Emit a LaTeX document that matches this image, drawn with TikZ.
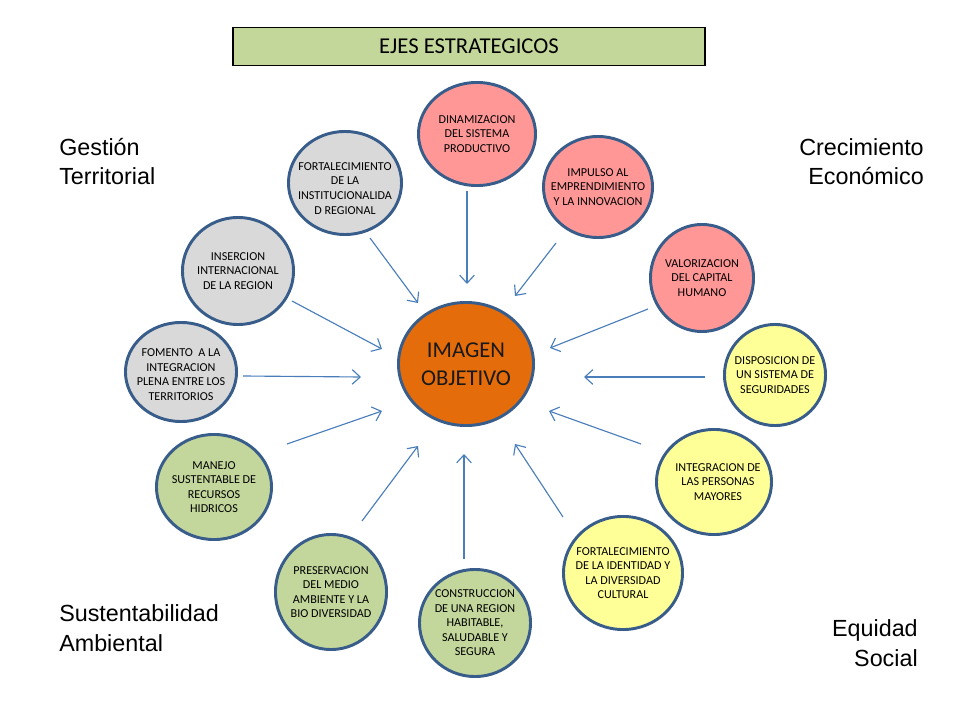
\documentclass[tikz,border=0pt]{standalone}
\usepackage{fontspec}
\setmainfont{Carlito}
\newfontfamily\arialfont{Liberation Sans}
\usetikzlibrary{shapes.geometric,arrows.meta}
\begin{document}
\begin{tikzpicture}[x=0.75pt,y=-0.75pt,
  bub/.style 2 args={ellipse, draw=bord, line width=2.2pt, inner sep=0pt,
    minimum width=#1*1.5pt-2.2pt, minimum height=#2*1.5pt-2.2pt},
  btext/.style={align=center, font=\fontsize{9.1}{10.9}\selectfont, inner sep=0pt},
  arw/.style={draw=arrc, line width=0.85pt, -{Straight Barb[length=6pt,width=11pt]}},
  quad/.style={font=\arialfont\fontsize{17.5}{22}\selectfont, inner sep=0pt}]
\definecolor{bord}{HTML}{385D8A}
\definecolor{arrc}{HTML}{4A7EBB}
\definecolor{pinkc}{HTML}{FF9797}
\definecolor{yellc}{HTML}{FFFF97}
\definecolor{grnc}{HTML}{C3D69B}
\definecolor{grayc}{HTML}{D9D9D9}
\definecolor{orc}{HTML}{E46C0A}
\definecolor{titc}{HTML}{C4D79B}
\useasboundingbox[fill=white] (0,0) rectangle (960,720);
\node[draw=black, line width=0.8pt, fill=titc, minimum width=354pt, minimum height=29pt, font=\fontsize{17}{19}\selectfont] (tit) at (469,46.5) {EJES ESTRATEGICOS};
\node[bub={69}{63}, fill=orc, label={[align=center, font=\fontsize{17}{21}\selectfont, text=black!90]center:IMAGEN\\OBJETIVO}] (img) at (466,364) {};
\node[bub={60}{53}, fill=pinkc, label={[btext]center:DINAMIZACION\\DEL SISTEMA\\PRODUCTIVO}] (din) at (477,134) {};
\node[bub={56}{52}, fill=pinkc, label={[btext]center:IMPULSO AL\\EMPRENDIMIENTO\\Y LA INNOVACION}] (imp) at (598,187) {};
\node[bub={53}{55}, fill=pinkc, label={[btext]center:VALORIZACION\\DEL CAPITAL\\HUMANO}] (val) at (702,278) {};
\node[bub={52}{52}, fill=yellc, label={[btext]center:DISPOSICION DE\\UN SISTEMA DE\\SEGURIDADES}] (dis) at (775,375) {};
\node[bub={59}{54}, fill=yellc, label={[btext, xshift=3pt]center:INTEGRACION DE\\LAS PERSONAS\\MAYORES}] (int) at (714,482) {};
\node[bub={61}{58}, fill=yellc, label={[btext]center:FORTALECIMIENTO\\DE LA IDENTIDAD Y\\LA DIVERSIDAD\\CULTURAL}] (ide) at (623,573) {};
\node[bub={57}{55}, fill=grnc, label={[btext]center:CONSTRUCCION\\DE UNA REGION\\HABITABLE,\\SALUDABLE Y\\SEGURA}] (con) at (475,623) {};
\node[bub={57}{59}, fill=grnc, label={[btext]center:PRESERVACION\\DEL MEDIO\\AMBIENTE Y LA\\BIO DIVERSIDAD}] (pre) at (331,592) {};
\node[bub={59}{54}, fill=grnc, label={[btext]center:MANEJO\\SUSTENTABLE DE\\RECURSOS\\HIDRICOS}] (man) at (214,487) {};
\node[bub={57}{51}, fill=grayc, label={[btext, yshift=-2pt]center:FOMENTO \ A LA\\INTEGRACION\\PLENA ENTRE LOS\\TERRITORIOS}] (fom) at (181,372) {};
\node[bub={57}{55}, fill=grayc, label={[btext]center:INSERCION\\INTERNACIONAL\\DE LA REGION}] (ins) at (238,271) {};
\node[bub={58}{53}, fill=grayc, label={[btext, yshift=-4pt]center:FORTALECIMIENTO\\DE LA\\INSTITUCIONALIDA\\D REGIONAL}] (ins2) at (345,183) {};
\coordinate (t1) at (467,191); \coordinate (h1) at (467,284); \draw[arw] (t1) -- (h1);
\coordinate (t2) at (556,243); \coordinate (h2) at (515,296); \draw[arw] (t2) -- (h2);
\coordinate (t3) at (648,309); \coordinate (h3) at (550,348); \draw[arw] (t3) -- (h3);
\coordinate (t4) at (705,377); \coordinate (h4) at (584,377); \draw[arw] (t4) -- (h4);
\coordinate (t5) at (641,444); \coordinate (h5) at (549,411); \draw[arw] (t5) -- (h5);
\coordinate (t6) at (563,517); \coordinate (h6) at (515,444); \draw[arw] (t6) -- (h6);
\coordinate (t7) at (464,559); \coordinate (h7) at (464,454); \draw[arw] (t7) -- (h7);
\coordinate (t8) at (362,521); \coordinate (h8) at (418,446); \draw[arw] (t8) -- (h8);
\coordinate (t9) at (287,444); \coordinate (h9) at (382,411); \draw[arw] (t9) -- (h9);
\coordinate (t10) at (243,376); \coordinate (h10) at (361,377); \draw[arw] (t10) -- (h10);
\coordinate (t11) at (292,301); \coordinate (h11) at (382,349); \draw[arw] (t11) -- (h11);
\coordinate (t12) at (370,238); \coordinate (h12) at (418,303); \draw[arw] (t12) -- (h12);
\node[quad, anchor=base west, align=left] (ges) at (59,185) {Gestión\\Territorial};
\node[quad, anchor=base east, align=right] (cre) at (924,185) {Crecimiento\\Económico};
\node[quad, anchor=base west, align=left] (sus) at (59,651) {Sustentabilidad\\Ambiental};
\node[quad, anchor=base east, align=right] (equ) at (918,666) {Equidad\\Social};
\end{tikzpicture}
\end{document}
